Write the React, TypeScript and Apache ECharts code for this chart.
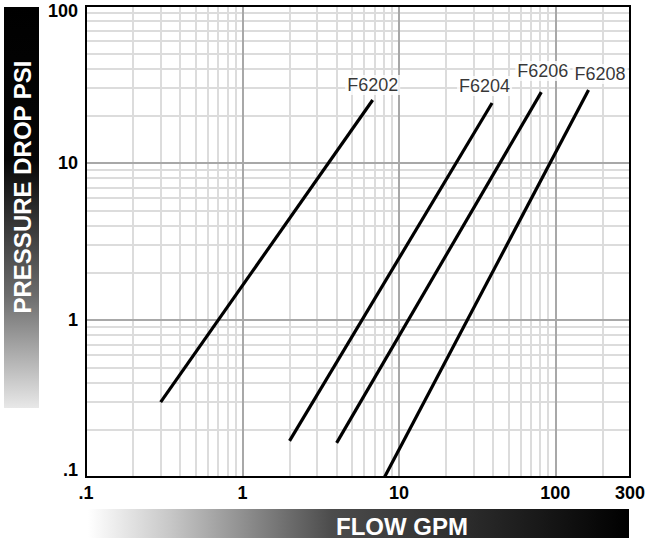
import React, { useEffect, useRef } from 'react';
import * as echarts from 'echarts';

// ---- data ----
const seriesNames = ['F6202', 'F6204', 'F6206', 'F6208'];
const flowStart = [0.3, 2.0, 4.0, 8.1];
const dropStart = [0.3, 0.17, 0.165, 0.1];
const flowEnd = [6.8, 39.4, 81.3, 163];
const dropEnd = [25.2, 24.1, 28.3, 29.2];

const xTicks = [0.1, 1, 10, 100, 300];
const xTickLabels = ['.1', '1', '10', '100', '300'];
const yTicks = [0.1, 1, 10, 100];
const yTickLabels = ['.1', '1', '10', '100'];

const xMajorGrid = [1, 10, 100];
const yMajorGrid = [1, 10];
const xMinorGrid = [
  0.2, 0.3, 0.4, 0.5, 0.6, 0.7, 0.8, 0.9,
  2, 3, 4, 5, 6, 7, 8, 9,
  20, 30, 40, 50, 60, 70, 80, 90,
  200,
];
const yMinorGrid = [
  0.2, 0.3, 0.4, 0.5, 0.6, 0.7, 0.8, 0.9,
  2, 3, 4, 5, 6, 7, 8, 9,
  20, 30, 40, 50, 60, 70, 80, 90,
];

const yAxisTitle = 'PRESSURE DROP PSI';
const xAxisTitle = 'FLOW GPM';

// ---- style ----
const labelOffsets = [
  [0, -15],
  [-7.5, -17],
  [1.5, -21],
  [11.5, -16],
];
const GRID = { left: 86, right: 19, top: 6, bottom: 65 };
const W = 649;
const H = 542;
const tickFont = "'Liberation Sans', Arial, Helvetica, sans-serif";
const narrowFont = "'Liberation Sans Narrow', 'Arial Narrow', 'Liberation Sans', sans-serif";

function nearestLabel(v: number, ticks: number[], labels: string[]) {
  let best = 0;
  let bd = Infinity;
  ticks.forEach((t, i) => {
    const d = Math.abs(Math.log10(v) - Math.log10(t));
    if (d < bd) {
      bd = d;
      best = i;
    }
  });
  return { label: labels[best], index: best };
}

export default function App() {
  const ref = useRef<HTMLDivElement>(null);

  useEffect(() => {
    const chart = echarts.init(ref.current!, null, { renderer: 'svg' });
    const gw = W - GRID.left - GRID.right;
    const gh = H - GRID.top - GRID.bottom;

    const tickText = { fontSize: 18, fontWeight: 'bold', color: '#000', fontFamily: tickFont };

    const curveSeries = seriesNames.map((name, i) => ({
      type: 'line',
      name,
      data: [
        [flowStart[i], dropStart[i]],
        [flowEnd[i], dropEnd[i]],
      ],
      symbol: 'none',
      silent: true,
      z: 10,
      lineStyle: { color: '#000', width: 3.2 },
    }));

    chart.setOption({
      animation: false,
      grid: { ...GRID, containLabel: false },
      xAxis: {
        type: 'log',
        logBase: 10,
        min: 0.1,
        max: 300,
        axisLine: { show: false },
        axisTick: { show: false },
        splitLine: { show: false },
        axisLabel: {
          margin: 7,
          ...tickText,
          formatter: (v: number) => nearestLabel(v, xTicks, xTickLabels).label,
        },
      },
      yAxis: {
        type: 'log',
        logBase: 10,
        min: 0.1,
        max: 100,
        axisLine: { show: false },
        axisTick: { show: false },
        splitLine: { show: false },
        axisLabel: {
          margin: 8,
          ...tickText,
          formatter: (v: number) => {
            const r = nearestLabel(v, yTicks, yTickLabels);
            if (r.index === yTicks.length - 1) return '{t|' + r.label + '}';
            if (r.index === 0) return '{b|' + r.label + '}';
            return '{n|' + r.label + '}';
          },
          rich: {
            t: { ...tickText, padding: [10, 0, 0, 0] },
            b: { ...tickText, padding: [0, 0, 14, 0] },
            n: { ...tickText },
          },
        },
      },
      series: [
        {
          type: 'line',
          data: [],
          silent: true,
          markLine: {
            silent: true,
            z: 1,
            symbol: ['none', 'none'],
            label: { show: false },
            emphasis: { disabled: true },
            lineStyle: { color: '#dcdcdc', width: 2, type: 'solid' },
            data: [
              ...xMinorGrid.map((v) => ({ xAxis: v })),
              ...yMinorGrid.map((v) => ({ yAxis: v })),
            ],
          },
        },
        {
          type: 'line',
          data: [],
          silent: true,
          markLine: {
            silent: true,
            z: 2,
            symbol: ['none', 'none'],
            label: { show: false },
            emphasis: { disabled: true },
            lineStyle: { color: '#a8a8a8', width: 2, type: 'solid' },
            data: [
              ...xMajorGrid.map((v) => ({ xAxis: v })),
              ...yMajorGrid.map((v) => ({ yAxis: v })),
            ],
          },
        },
        ...curveSeries,
        {
          type: 'scatter',
          silent: true,
          z: 11,
          symbolSize: 0,
          data: seriesNames.map((n, i) => ({
            value: [flowEnd[i], dropEnd[i]],
            label: { offset: labelOffsets[i] },
          })),
          label: {
            show: true,
            position: 'inside',
            formatter: (p: any) => seriesNames[p.dataIndex],
            fontSize: 18,
            fontFamily: narrowFont,
            color: '#000',
            backgroundColor: '#fff',
            padding: [1, 2],
          },
        },
      ],
      graphic: [
        {
          type: 'rect',
          z: 20,
          silent: true,
          shape: { x: GRID.left, y: GRID.top, width: gw, height: gh },
          style: { fill: 'none', stroke: '#000', lineWidth: 2 },
        },
        {
          type: 'rect',
          z: 1,
          silent: true,
          shape: { x: 4, y: 7, width: 35, height: 401 },
          style: {
            fill: new echarts.graphic.LinearGradient(0, 0, 0, 1, [
              { offset: 0, color: '#000000' },
              { offset: 0.38, color: '#060606' },
              { offset: 0.72, color: '#6c6c6c' },
              { offset: 1, color: '#e8e8e8' },
            ]),
          },
        },
        {
          type: 'text',
          z: 2,
          silent: true,
          x: 22,
          y: 187,
          rotation: Math.PI / 2,
          style: {
            text: yAxisTitle,
            fill: '#fff',
            fontSize: 24,
            fontWeight: 'bold',
            fontFamily: tickFont,
            align: 'center',
            verticalAlign: 'middle',
          },
        },
        {
          type: 'rect',
          z: 1,
          silent: true,
          shape: { x: 88, y: 509, width: 541, height: 29 },
          style: {
            fill: new echarts.graphic.LinearGradient(0, 0, 1, 0, [
              { offset: 0, color: '#ffffff' },
              { offset: 0.15, color: '#c8c8c8' },
              { offset: 0.3, color: '#8a8a8a' },
              { offset: 0.45, color: '#4c4c4c' },
              { offset: 0.7, color: '#2c2c2c' },
              { offset: 1, color: '#000000' },
            ]),
          },
        },
        {
          type: 'text',
          z: 2,
          silent: true,
          x: 402,
          y: 526,
          style: {
            text: xAxisTitle,
            fill: '#fff',
            fontSize: 24,
            fontWeight: 'bold',
            fontFamily: tickFont,
            align: 'center',
            verticalAlign: 'middle',
          },
        },
      ],
    });

    return () => chart.dispose();
  }, []);

  return (
    <div
      ref={ref}
      style={{ position: 'fixed', left: 0, top: 0, width: W, height: H, background: '#fff' }}
    />
  );
}
